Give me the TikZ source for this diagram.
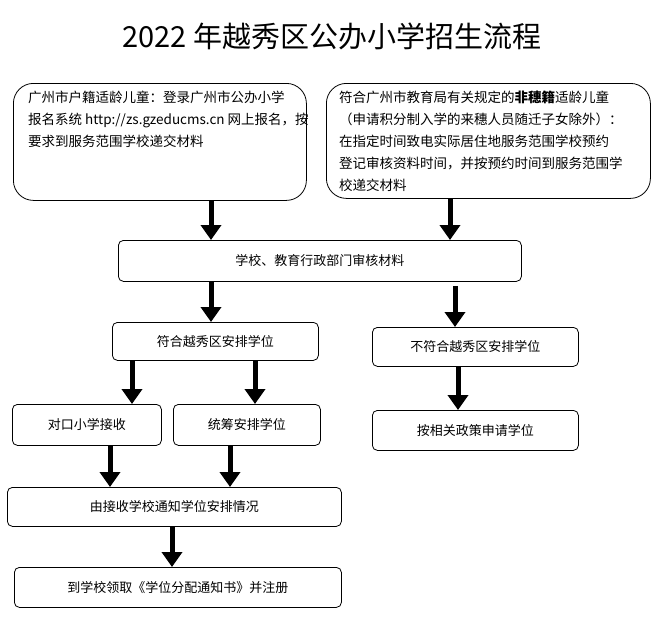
\documentclass[tikz,border=0pt]{standalone}
\usepackage{fontspec}
\setmainfont{Noto Sans CJK SC}
\usetikzlibrary{positioning,arrows.meta}

\tikzset{
  box/.style={draw, line width=0.8pt, rounded corners=5pt, anchor=north west, inner sep=0pt, font=\fontsize{13}{13}\selectfont},
  bigbox/.style={draw, line width=0.8pt, rounded corners=20pt, anchor=north west, inner sep=0pt},
  txt/.style={anchor=north west, align=left, inner sep=0pt, font=\fontsize{13.5}{22}\selectfont},
  flow/.style={line width=5pt, -{Triangle[length=15pt,width=20pt]}}
}

\begin{document}
\begin{tikzpicture}[x=1pt,y=-1pt]
\useasboundingbox (0,0) rectangle (658,640);
\node[font=\fontsize{29}{29}\selectfont] (title) at (332,36) {2022 年越秀区公办小学招生流程};

% top boxes
\node[bigbox, minimum width=293pt, minimum height=117pt] (reg) at (13,83) {};
\node[txt] at (28,91) {广州市户籍适龄儿童：登录广州市公办小学\\报名系统 http://zs.gzeducms.cn 网上报名，按\\要求到服务范围学校递交材料};
\node[bigbox, minimum width=324pt, minimum height=115pt] (nonreg) at (326,83) {};
\node[txt] at (339,91) {符合广州市教育局有关规定的\textbf{非穗籍}适龄儿童\\（申请积分制入学的来穗人员随迁子女除外）：\\在指定时间致电实际居住地服务范围学校预约\\登记审核资料时间，并按预约时间到服务范围学\\校递交材料};

% flow boxes
\node[box, minimum width=403pt, minimum height=41pt] (check) at (118,240) {学校、教育行政部门审核材料};
\node[box, minimum width=206pt, minimum height=38pt] (ok) at (112,322) {符合越秀区安排学位};
\node[box, minimum width=206pt, minimum height=39pt] (notok) at (372,327) {不符合越秀区安排学位};
\node[box, minimum width=149pt, minimum height=41pt] (local) at (12,404) {对口小学接收};
\node[box, minimum width=147pt, minimum height=41pt] (plan) at (173,404) {统筹安排学位};
\node[box, minimum width=206pt, minimum height=40pt] (policy) at (372,410) {按相关政策申请学位};
\node[box, minimum width=334pt, minimum height=39pt] (notify) at (7,487) {由接收学校通知学位安排情况};
\node[box, minimum width=327pt, minimum height=40pt] (enrol) at (14,567) {到学校领取《学位分配通知书》并注册};

% arrows
\draw[flow] (reg.south -| 211,0) -- (check.north -| 211,0);
\draw[flow] (nonreg.south -| 450,0) -- (check.north -| 450,0);
\draw[flow] (check.south -| 211,0) -- (ok.north -| 211,0);
\draw[flow] ([yshift=-4pt]check.south -| 455,0) -- (notok.north -| 455,0);
\draw[flow] (ok.south -| 132,0) -- (local.north -| 132,0);
\draw[flow] (ok.south -| 255,0) -- (plan.north -| 255,0);
\draw[flow] (notok.south -| 458,0) -- (policy.north -| 458,0);
\draw[flow] (local.south -| 110,0) -- (notify.north -| 110,0);
\draw[flow] (plan.south -| 230,0) -- (notify.north -| 230,0);
\draw[flow] (notify.south -| 172,0) -- (enrol.north -| 172,0);
\end{tikzpicture}
\end{document}
